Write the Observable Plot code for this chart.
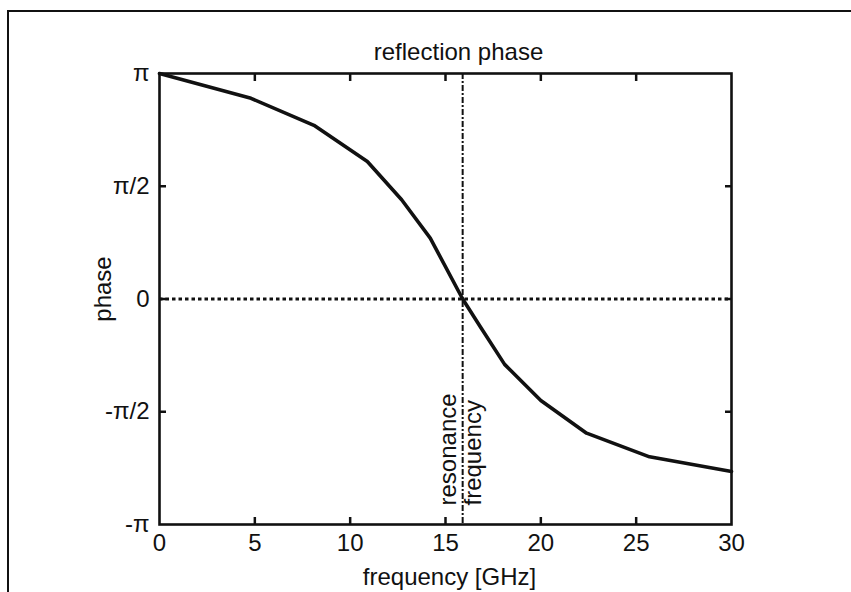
<!DOCTYPE html>
<html>
<head>
<meta charset="utf-8">
<script src="https://cdn.jsdelivr.net/npm/d3@7"></script>
<script src="https://cdn.jsdelivr.net/npm/@observablehq/plot@0.6"></script>
<style>
  html, body { margin: 0; padding: 0; background: #fff; }
  #wrap { position: relative; width: 851px; height: 592px; overflow: hidden; }
  #border { position: absolute; left: 7px; top: 10px; width: 900px; height: 700px;
            border-left: 2px solid #111; border-top: 2px solid #111; pointer-events: none; }
</style>
</head>
<body>
<div id="wrap"><div id="border"></div></div>
<script>
// ---- data ----
const title = "reflection phase";
const xLabel = "frequency [GHz]";
const yLabel = "phase";
const resonanceLabel = "resonance\nfrequency";
const resonanceFreq = 15.9;                 // GHz
const freq = [0, 4.8, 8.1, 10.9, 12.7, 14.2, 15.9, 16.8, 18.1, 20.0, 22.4, 25.7, 30];
const phaseOverPi = [1.0, 0.89, 0.77, 0.61, 0.44, 0.27, 0, -0.12, -0.29, -0.45, -0.595, -0.70, -0.765];
const xTicks = [0, 5, 10, 15, 20, 25, 30];
const xInnerTicks = [5, 10, 15, 20, 25];
const yTicksOverPi = [-1, -0.5, 0, 0.5, 1];
const yTickLabels = ["-π", "-π/2", "0", "π/2", "π"];

const PI = Math.PI;
const curve = freq.map((f, i) => ({f, phase: phaseOverPi[i] * PI}));
const yTicks = yTicksOverPi.map(v => v * PI);
const yInnerTicks = [-0.5, 0, 0.5].map(v => v * PI);
const yFmt = v => yTickLabels[yTicks.findIndex(t => Math.abs(t - v) < 1e-9)];

const chart = Plot.plot({
  width: 851,
  height: 592,
  marginLeft: 159,
  marginRight: 120,
  marginTop: 73,
  marginBottom: 68,
  style: {fontFamily: "'Liberation Sans', Arial, sans-serif", fontSize: "24px", color: "#111", background: "transparent", overflow: "visible"},
  x: {domain: [0, 30]},
  y: {domain: [-PI, PI]},
  marks: [
    // zero line and resonance line
    Plot.ruleY([0], {stroke: "#111", strokeWidth: 3.2, strokeDasharray: "3.5,3"}),
    Plot.ruleX([resonanceFreq], {stroke: "#111", strokeWidth: 2, strokeDasharray: "6,2,2,2"}),
    // tick labels
    Plot.axisX({ticks: xTicks, tickSize: 0, tickPadding: 9, label: null, tickFormat: d => String(d)}),
    Plot.axisY({ticks: yTicks, tickSize: 0, tickPadding: 10, label: null, tickFormat: yFmt}),
    // inner ticks on all four sides
    Plot.axisX({anchor: "bottom", ticks: xInnerTicks, tickSize: -7, strokeWidth: 2.5, tickFormat: () => "", label: null}),
    Plot.axisX({anchor: "top", ticks: xInnerTicks, tickSize: -7, strokeWidth: 2.5, tickFormat: () => "", label: null}),
    Plot.axisY({anchor: "left", ticks: yInnerTicks, tickSize: -7, strokeWidth: 2.5, tickFormat: () => "", label: null}),
    Plot.axisY({anchor: "right", ticks: yInnerTicks, tickSize: -7, strokeWidth: 2.5, tickFormat: () => "", label: null}),
    Plot.frame({stroke: "#111", strokeWidth: 2.6}),
    // curve
    Plot.line(curve, {x: "f", y: "phase", stroke: "#111", strokeWidth: 3.6, strokeLinejoin: "round"}),
    // annotations
    Plot.text([resonanceLabel], {x: resonanceFreq, y: -PI, text: d => d, rotate: -90, textAnchor: "start",
      lineAnchor: "middle", lineHeight: 1.04, dy: -19, dx: -2, fill: "#111"}),
    Plot.text([title], {frameAnchor: "top", text: d => d, textAnchor: "middle", dx: 13, dy: -21, lineAnchor: "middle", fill: "#111"}),
    Plot.text([xLabel], {frameAnchor: "bottom", text: d => d, textAnchor: "middle", dx: 4, dy: 53, lineAnchor: "middle", fill: "#111"}),
    Plot.text([yLabel], {frameAnchor: "left", text: d => d, rotate: -90, textAnchor: "middle", dx: -56, dy: -10, lineAnchor: "middle", fill: "#111"})
  ]
});
chart.style.position = "absolute";
chart.style.left = "0px";
chart.style.top = "0px";
document.getElementById("wrap").prepend(chart);
</script>
</body>
</html>
